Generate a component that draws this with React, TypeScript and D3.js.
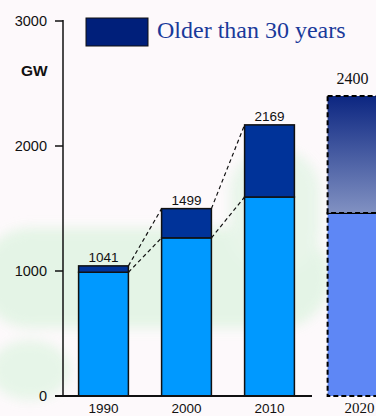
import React from "react";
import * as d3 from "d3";

const years = ["1990", "2000", "2010", "2020"];
const totals = [1041, 1499, 2169, 2400];
const younger = [990, 1265, 1592, 1465];
const yTicks = [0, 1000, 2000, 3000];
const legendLabel = "Older than 30 years";
const unitLabel = "GW";

const W = 376;
const H = 416;

export default function App() {
  const y = d3.scaleLinear().domain([0, 3000]).range([396, 21]);
  const x = d3
    .scaleBand<string>()
    .domain(years)
    .range([62, 394])
    .paddingInner(0.4)
    .paddingOuter(0.2);
  const bw = x.bandwidth();
  const sans = "'Liberation Sans', Arial, sans-serif";
  const serif = "'Liberation Serif', 'Times New Roman', serif";

  const hist = years.slice(0, 3);
  const connectors: { x1: number; y1: number; x2: number; y2: number }[] = [];
  for (let i = 0; i < 2; i++) {
    const xa = (x(hist[i]) as number) + bw;
    const xb = x(hist[i + 1]) as number;
    connectors.push({ x1: xa, y1: y(totals[i]), x2: xb, y2: y(totals[i + 1]) });
    connectors.push({ x1: xa, y1: y(younger[i]), x2: xb, y2: y(younger[i + 1]) });
  }
  const fx = x("2020") as number;

  return (
    <svg
      width={W}
      height={H}
      style={{ position: "absolute", left: 0, top: 0, background: "#fdf9fb" }}
    >
      <defs>
        <linearGradient id="g2020" x1="0" y1="0" x2="0" y2="1">
          <stop offset="0%" stopColor="#0c2681" />
          <stop offset="100%" stopColor="#8191c2" />
        </linearGradient>
        <filter id="blur"><feGaussianBlur stdDeviation="6" /></filter>
      </defs>
      {/* faint watermark */}
      <g filter="url(#blur)" opacity={0.9}>
        <rect x={-20} y={228} width={350} height={100} rx={50} fill="#e2f4e4" />
        <ellipse cx={30} cy={370} rx={40} ry={30} fill="#e4f5e6" />
        <rect x={230} y={150} width={90} height={120} rx={40} fill="#e6f5e8" />
      </g>

      {/* bars 1990-2010 */}
      {hist.map((yr, i) => (
        <g key={yr}>
          <rect
            x={x(yr)}
            y={y(younger[i])}
            width={bw}
            height={y(0) - y(younger[i])}
            fill="#0099ff"
            stroke="#111"
            strokeWidth={1.5}
          />
          <rect
            x={x(yr)}
            y={y(totals[i])}
            width={bw}
            height={y(younger[i]) - y(totals[i])}
            fill="#003399"
            stroke="#111"
            strokeWidth={1.5}
          />
          <text
            x={(x(yr) as number) + bw / 2}
            y={y(totals[i]) - 4}
            textAnchor="middle"
            fontFamily={sans}
            fontSize={13.5}
            fill="#111"
          >
            {totals[i]}
          </text>
          <text
            x={(x(yr) as number) + bw / 2}
            y={413}
            textAnchor="middle"
            fontFamily={sans}
            fontSize={13.5}
            fill="#111"
          >
            {yr}
          </text>
        </g>
      ))}

      {/* connectors */}
      {connectors.map((c, i) => (
        <line
          key={i}
          x1={c.x1}
          y1={c.y1}
          x2={c.x2}
          y2={c.y2}
          stroke="#111"
          strokeWidth={1.2}
          strokeDasharray="4,3"
        />
      ))}

      {/* 2020 forecast bar */}
      <rect
        x={fx}
        y={y(younger[3])}
        width={bw}
        height={y(0) - y(younger[3])}
        fill="#5e87f5"
        stroke="#000"
        strokeWidth={2}
        strokeDasharray="5,3"
      />
      <rect
        x={fx}
        y={y(totals[3])}
        width={bw}
        height={y(younger[3]) - y(totals[3])}
        fill="url(#g2020)"
        stroke="#000"
        strokeWidth={2}
        strokeDasharray="5,3"
      />
      <text
        x={fx + 25}
        y={y(totals[3]) - 12}
        textAnchor="middle"
        fontFamily={serif}
        fontSize={16}
        fill="#111"
      >
        {totals[3]}
      </text>
      <text x={fx + 17} y={413} fontFamily={serif} fontSize={15} fill="#111">
        2020
      </text>

      {/* axes */}
      <line x1={63} y1={20} x2={63} y2={396} stroke="#111" strokeWidth={1.5} />
      <line x1={55} y1={396} x2={312} y2={396} stroke="#111" strokeWidth={2} />
      {yTicks.map((t) => (
        <g key={t}>
          {t > 0 && (
            <line x1={55} y1={y(t)} x2={63} y2={y(t)} stroke="#111" strokeWidth={1.5} />
          )}
          <text
            x={47}
            y={y(t) + 5}
            textAnchor="end"
            fontFamily={sans}
            fontSize={14.5}
            fill="#111"
          >
            {t}
          </text>
        </g>
      ))}
      <text x={21} y={76} fontFamily={sans} fontSize={15.5} fontWeight="bold" fill="#111">
        {unitLabel}
      </text>

      {/* legend */}
      <rect x={86} y={18} width={62} height={28} fill="#001f7a" stroke="#111" strokeWidth={1} />
      <text x={157} y={38} fontFamily={serif} fontSize={24} fill="#1a3a9a">
        {legendLabel}
      </text>
    </svg>
  );
}
